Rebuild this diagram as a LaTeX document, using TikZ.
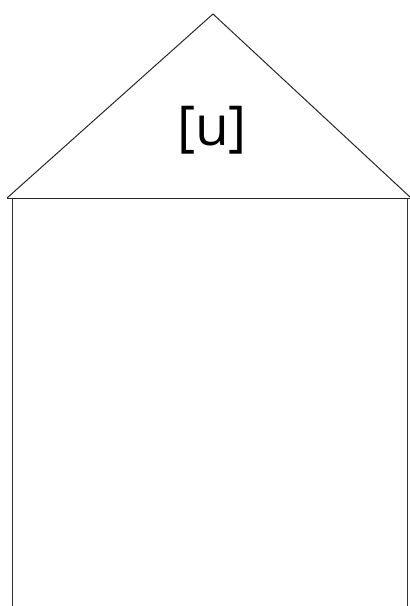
\documentclass[tikz,border=0pt]{standalone}
\usepackage{fontspec}
\setmainfont{Open Sans}
\begin{document}
\begin{tikzpicture}[x=1pt,y=-1pt,line width=1pt,
  edge/.style={draw=black!85},
  wall/.style={draw=black!80,line width=1.3pt}]
\useasboundingbox (0,0) rectangle (410,606);
\coordinate (apex) at (213,14);
\coordinate (bl) at (7,198);
\coordinate (br) at (410,197);
\coordinate (rtl) at (12.5,198);
\coordinate (rtr) at (407.5,198);
\coordinate (rbl) at (12.5,610);
\coordinate (rbr) at (407.5,610);
\draw[edge] (bl) -- (apex) -- (br);
\draw[edge] (bl) -- (rtr -| br);
\draw[wall] (rbl) -- (rtl);
\draw[wall] (rbr) -- (rtr);
\node[inner sep=0pt,font=\fontsize{55}{60}\selectfont] (lbl) at (212,130) {[u]};
\end{tikzpicture}
\end{document}
